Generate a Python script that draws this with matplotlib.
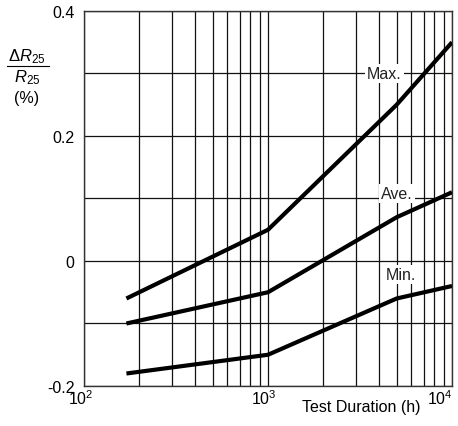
import matplotlib
matplotlib.use("Agg")
import matplotlib.pyplot as plt
from matplotlib.ticker import FixedLocator, NullFormatter
from matplotlib.transforms import ScaledTranslation

plt.rcParams['font.family'] = ['Liberation Sans', 'DejaVu Sans']
plt.rcParams['mathtext.fontset'] = 'custom'
plt.rcParams['mathtext.rm'] = 'Liberation Sans'
plt.rcParams['mathtext.it'] = 'Liberation Sans:italic'

# data
hours = [170, 1000, 5000, 10000]
max_drift = [-0.06, 0.05, 0.25, 0.35]
ave_drift = [-0.10, -0.05, 0.07, 0.11]
min_drift = [-0.18, -0.15, -0.06, -0.04]

labels = ["Max.", "Ave.", "Min."]
label_pos = [(4300, 0.30), (5000, 0.108), (5300, -0.022)]

fig = plt.figure(figsize=(4.58, 4.27), dpi=100)
ax = fig.add_axes([0.1834, 0.0937, 0.8036, 0.8782])

ax.set_xscale('log')
ax.set_xlim(100, 10000)
ax.set_ylim(-0.2, 0.4)

# grid
ax.xaxis.set_major_locator(FixedLocator([100, 1000, 10000]))
ax.xaxis.set_minor_locator(FixedLocator([m * 10 ** e for e in (2, 3) for m in range(2, 10)]))
ax.xaxis.set_minor_formatter(NullFormatter())
ax.yaxis.set_major_locator(FixedLocator([-0.2, 0.0, 0.2, 0.4]))
ax.yaxis.set_minor_locator(FixedLocator([-0.1, 0.1, 0.3]))
ax.grid(True, which='both', color='#111111', lw=0.9)
ax.tick_params(which='both', length=0)
ax.tick_params(axis='y', pad=7, labelsize=11.5)
ax.tick_params(axis='x', pad=2, labelsize=11.5)
ax.set_yticklabels(['-0.2', '0', '0.2', '0.4'])
ax.set_xticklabels(['10$^2$', '10$^3$', '10$^4$'])
for s in ax.spines.values():
    s.set_linewidth(1.0)
    s.set_color('#333333')

# nudge x tick labels left like the reference
for lab, dx in zip(ax.get_xticklabels(), [-2, -3, -9]):
    lab.set_transform(lab.get_transform() + ScaledTranslation(dx / 72, 0, fig.dpi_scale_trans))

for vals in (max_drift, ave_drift, min_drift):
    ax.plot(hours, vals, color='black', lw=3.0, solid_capstyle='butt', zorder=3)

for lab, (x, y) in zip(labels, label_pos):
    ax.text(x, y, lab, ha='center', va='center', fontsize=11.5, color='#222222', zorder=4,
            bbox=dict(facecolor='white', edgecolor='none', pad=1.5))

fig.text(420 / 458, 1 - 408 / 427, 'Test Duration (h)', ha='right', va='center', fontsize=11.5)

# y label as a fraction
fig.text(27 / 458, 1 - 57 / 427, r'$\Delta R_{25}$', ha='center', va='center', fontsize=12)
fig.add_artist(plt.Line2D([7 / 458, 49 / 458], [1 - 67 / 427, 1 - 67 / 427], color='black', lw=0.8))
fig.text(27 / 458, 1 - 78 / 427, r'$R_{25}$', ha='center', va='center', fontsize=12)
fig.text(27 / 458, 1 - 99 / 427, '(%)', ha='center', va='center', fontsize=11.5)

fig.savefig('out.png', dpi=100)
